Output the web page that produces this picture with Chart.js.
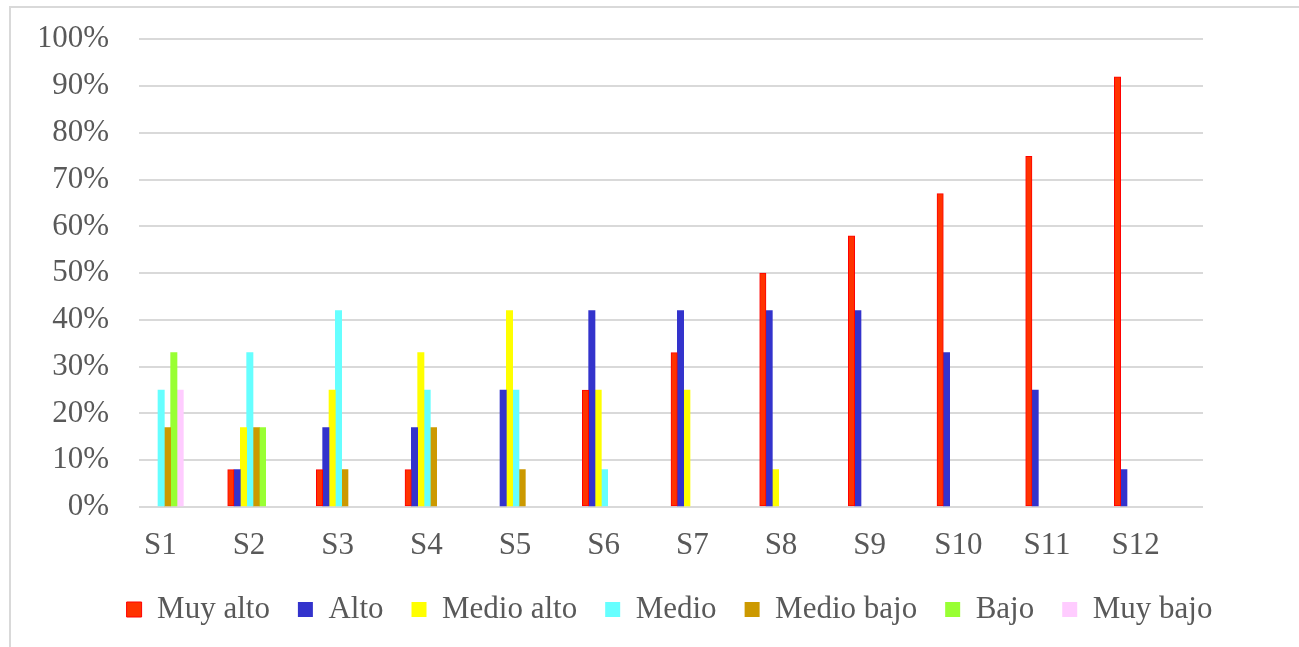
<!DOCTYPE html>
<html lang="es">
<head>
<meta charset="utf-8">
<title>Niveles por semana</title>
<script src="https://cdn.jsdelivr.net/npm/chart.js@4/dist/chart.umd.min.js"></script>
<style>
    body { margin: 0; background: #fff; overflow: hidden; }
    #marco {
        position: absolute;
        left: 9px; top: 6px;
        width: 1320px; height: 680px;
        border: 2px solid #d9d9d9;
    }
    #grafico { position: absolute; left: 0; top: 0; }
</style>
</head>
<body>
<div id="marco"></div>
<canvas id="grafico" width="1299" height="647"></canvas>
<script>
// Datos (porcentajes)
const semanas = ['S1', 'S2', 'S3', 'S4', 'S5', 'S6', 'S7', 'S8', 'S9', 'S10', 'S11', 'S12'];
const ticksY = [0, 10, 20, 30, 40, 50, 60, 70, 80, 90, 100];

const muyAlto   = [null, 8, 8, 8, null, 25, 33, 50, 58, 67, 75, 92];
const alto      = [null, 8, 17, 17, 25, 42, 42, 42, 42, 33, 25, 8];
const medioAlto = [null, 17, 25, 33, 42, 25, 25, 8, null, null, null, null];
const medio     = [25, 33, 42, 25, 25, 8, null, null, null, null, null, null];
const medioBajo = [17, 17, 8, 17, 8, null, null, null, null, null, null, null];
const bajo      = [33, 17, null, null, null, null, null, null, null, null, null, null];
const muyBajo   = [25, null, null, null, null, null, null, null, null, null, null, null];

const series = [
    { label: 'Muy alto',   data: muyAlto,   color: '#ff3300', borde: '#ff0000', ancho: 1 },
    { label: 'Alto',       data: alto,      color: '#3333cc', borde: '#3333cc', ancho: 0 },
    { label: 'Medio alto', data: medioAlto, color: '#ffff00', borde: '#ffff00', ancho: 0 },
    { label: 'Medio',      data: medio,     color: '#66ffff', borde: '#66ffff', ancho: 0 },
    { label: 'Medio bajo', data: medioBajo, color: '#cc9900', borde: '#cc9900', ancho: 0 },
    { label: 'Bajo',       data: bajo,      color: '#99ff33', borde: '#99ff33', ancho: 0 },
    { label: 'Muy bajo',   data: muyBajo,   color: '#ffccff', borde: '#ffccff', ancho: 0 }
];

const familia = "'Liberation Serif', 'Times New Roman', serif";
const fuente = { family: familia, size: 31 };
const gris = '#595959';

const datasets = series.map(s => ({
    label: s.label,
    data: s.data,
    backgroundColor: s.color,
    borderColor: s.borde,
    borderWidth: s.ancho,
    borderSkipped: false,
    barPercentage: 1,
    categoryPercentage: 1
}));
// el grupo original ocupa solo la mitad izquierda de cada categoría
for (let i = 0; i < series.length; i++) {
    datasets.push({ label: '', data: [], barPercentage: 1, categoryPercentage: 1 });
}

new Chart(document.getElementById('grafico').getContext('2d'), {
    type: 'bar',
    data: { labels: semanas, datasets: datasets },
    options: {
        responsive: false,
        animation: false,
        layout: { padding: { left: 40, right: 0, top: 39, bottom: 12 } },
        plugins: {
            tooltip: { enabled: false },
            legend: {
                position: 'bottom',
                labels: {
                    color: gris,
                    font: fuente,
                    boxWidth: 15,
                    boxHeight: 15,
                    padding: 28,
                    filter: item => item.datasetIndex < series.length
                }
            }
        },
        scales: {
            x: {
                grid: { display: false, drawTicks: false },
                border: { display: false },
                ticks: {
                    color: gris,
                    font: fuente,
                    padding: 20,
                    labelOffset: -23,
                    autoSkip: false,
                    maxRotation: 0
                },
                afterFit: scale => { scale.height = 59; }
            },
            y: {
                min: 0,
                max: 100,
                afterBuildTicks: scale => { scale.ticks = ticksY.map(v => ({ value: v })); },
                grid: { color: '#d9d9d9', lineWidth: 2, drawTicks: false },
                border: { display: false },
                ticks: {
                    color: gris,
                    // lineHeight bajo: el padding de 30 px no debe empujar el área hacia abajo
                    font: { family: familia, size: 31, lineHeight: 0.6 },
                    padding: 30,
                    autoSkip: false,
                    callback: v => v + '%'
                },
                afterFit: scale => { scale.width = 99; }
            },
            // margen derecho vacío, igual que en el original
            margen: {
                type: 'linear',
                position: 'right',
                display: true,
                grid: { display: false },
                border: { display: false },
                ticks: { display: false },
                afterFit: scale => { scale.width = 96; }
            }
        }
    }
});
</script>
</body>
</html>
